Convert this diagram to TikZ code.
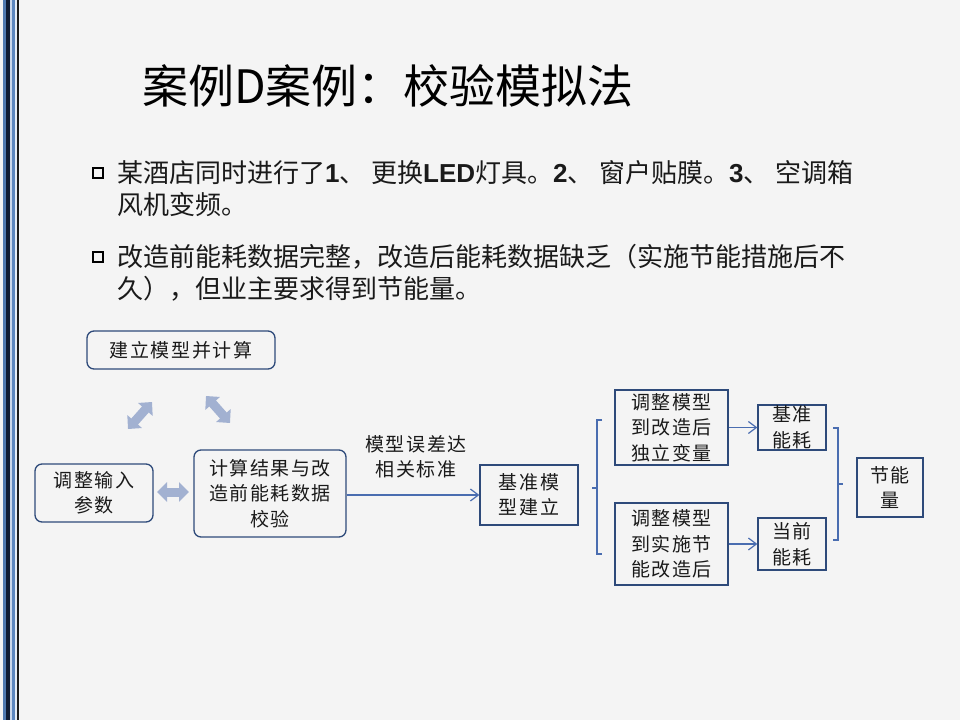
\documentclass[tikz,border=0pt]{standalone}
\usepackage{fontspec}
\setmainfont{Noto Sans CJK SC}
\newfontfamily\boxfont[LetterSpace=8]{Noto Sans CJK SC}
\newfontfamily\txtfont{Noto Sans CJK SC}
\newfontfamily\latfont{Liberation Sans}
\newcommand{\lb}[1]{{\latfont\bfseries #1}}
\usetikzlibrary{arrows.meta}
\definecolor{bg}{HTML}{F4F4F4}
\definecolor{navy}{HTML}{2E4A7A}
\definecolor{linec}{HTML}{4A6DB0}
\definecolor{fatc}{HTML}{A2B1D1}
\definecolor{sb1}{HTML}{4F79B0}
\definecolor{sb2}{HTML}{0F1B33}
\definecolor{sb3}{HTML}{C9D6EA}
\definecolor{sb4}{HTML}{5C86BE}
\definecolor{sb5}{HTML}{E6ECF5}
\definecolor{sb6}{HTML}{1A1A1A}
\definecolor{txtc}{HTML}{1A1A1A}
\begin{document}
\begin{tikzpicture}[x=1pt,y=-1pt,
  rbox/.style={draw=navy,line width=1.3pt,rounded corners=7pt,inner sep=0pt,align=center,
    font=\boxfont\fontsize{19}{25.5}\selectfont,text=txtc},
  sbox/.style={draw=navy,line width=1.3pt,inner sep=0pt,align=center,
    font=\boxfont\fontsize{19}{25.5}\selectfont,text=txtc},
  conn/.style={draw=linec,line width=1.2pt},
  arr/.style={conn,-{Straight Barb[length=8pt,width=12pt]}},
  fat/.style={fatc,line width=9pt,{Triangle[width=19pt,length=10pt]}-{Triangle[width=19pt,length=10pt]}},
  bul/.style={draw=black,line width=2pt,minimum size=10pt,inner sep=0pt},
  para/.style={anchor=west,inner sep=0pt,font=\txtfont\fontsize{26}{32}\selectfont,text=txtc}
]
% background
\fill[bg] (0,0) rectangle (960,720);
\useasboundingbox (0,0) rectangle (960,720);
% left border stripes
\fill[sb1] (3,0) rectangle (6,720);
\fill[sb2] (6,0) rectangle (10,720);
\fill[sb3] (10,0) rectangle (12,720);
\fill[sb4] (12,0) rectangle (15,720);
\fill[sb5] (15,0) rectangle (17,720);
\fill[sb6] (17,0) rectangle (19,720);

% title
\node[inner sep=0pt,font=\txtfont\fontsize{46}{50}\selectfont,text=black] (title) at (388,86) {案例D案例：校验模拟法};

% bullets
\node[bul] (b1) at (98,173) {};
\node[para] (l1) at (117,173) {某酒店同时进行了\lb{1}、\hspace{5.5pt}更换\lb{LED}灯具。\lb{2}、\hspace{5.5pt}窗户贴膜。\lb{3}、\hspace{5.5pt}空调箱};
\node[para] (l2) at (117,205) {风机变频。};
\node[bul] (b2) at (98,257) {};
\node[para] (l3) at (117,257) {改造前能耗数据完整，改造后能耗数据缺乏（实施节能措施后不};
\node[para] (l4) at (117,289) {久），但业主要求得到节能量。};

% diagram nodes
\node[rbox,minimum width=188pt,minimum height=38pt] (jl) at (181,350) {建立模型并计算};
\node[rbox,minimum width=118pt,minimum height=58pt] (tz) at (94,493) {调整输入\\参数};
\node[rbox,minimum width=152pt,minimum height=87pt] (js) at (270,493.5) {计算结果与改\\造前能耗数据\\校验};
\node[sbox,minimum width=98pt,minimum height=60pt] (jz) at (529,495) {基准模\\型建立};
\node[sbox,minimum width=113pt,minimum height=75pt] (m1) at (671.5,427.5) {调整模型\\到改造后\\独立变量};
\node[sbox,minimum width=113pt,minimum height=82pt] (m2) at (671.5,544) {调整模型\\到实施节\\能改造后};
\node[sbox,minimum width=68pt,minimum height=45pt] (e1) at (792,427.5) {基准\\能耗};
\node[sbox,minimum width=68pt,minimum height=52pt] (e2) at (792,544) {当前\\能耗};
\node[sbox,minimum width=66pt,minimum height=59pt] (sv) at (890,487.5) {节能\\量};

% fat double arrows
\coordinate (f1a) at (157,492); \coordinate (f1b) at (189,492);
\coordinate (f2a) at (128,429); \coordinate (f2b) at (152,402);
\coordinate (f3a) at (206,396); \coordinate (f3b) at (230,423);
\draw[fat] (f1a) -- (f1b);
\draw[fat] (f2a) -- (f2b);
\draw[fat] (f3a) -- (f3b);

% main arrow with label
\draw[arr] (js.east |- jz.west) -- (jz.west);
\node[inner sep=0pt,align=center,font=\boxfont\fontsize{19}{25.5}\selectfont,text=txtc] (lab) at (416,457) {模型误差达\\相关标准};

% left brace
\coordinate (lbt) at (597,420); \coordinate (lbb) at (597,554); \coordinate (lbm) at (597,488);
\draw[conn] ([xshift=5pt]lbt) -- (lbt) -- (lbb) -- ([xshift=5pt]lbb);
\draw[conn] (lbm) -- ([xshift=-5pt]lbm);

% arrows to energy boxes
\draw[arr] (m1.east |- e1.west) -- (e1.west);
\draw[arr] (m2.east |- e2.west) -- (e2.west);

% right brace
\coordinate (rbt) at (838,428); \coordinate (rbb) at (838,540); \coordinate (rbm) at (838,484);
\draw[conn] ([xshift=-5pt]rbt) -- (rbt) -- (rbb) -- ([xshift=-5pt]rbb);
\draw[conn] (rbm) -- ([xshift=5pt]rbm);
\end{tikzpicture}
\end{document}
